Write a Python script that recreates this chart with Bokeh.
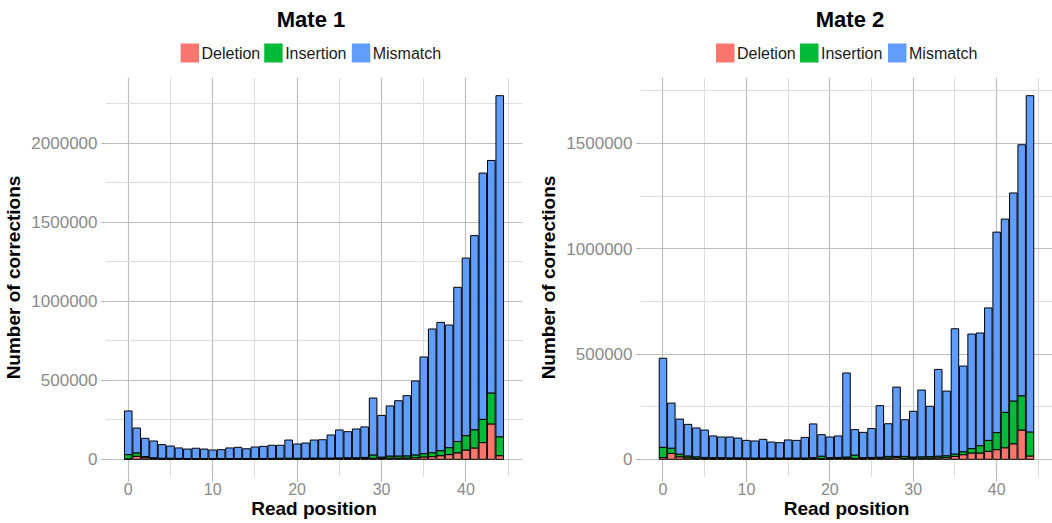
from bokeh.plotting import figure
from bokeh.models import (Range1d, SingleIntervalTicker, BasicTickFormatter, ColumnDataSource)
from bokeh.core.properties import value
from bokeh.layouts import row, column
from bokeh.embed import file_html
from bokeh.resources import INLINE

positions = list(range(45))
categories = ["Deletion", "Insertion", "Mismatch"]
colors = ["#F8766D", "#00BA38", "#619CFF"]
titles = ["Mate 1", "Mate 2"]

# Mate 1 (counts)
mate1_deletion = [3000, 19000, 10000, 5000, 3000, 3000, 3000, 2000, 2000, 2000,
                  2000, 2000, 2000, 2000, 2000, 2000, 2000, 2000, 3000, 3000,
                  3000, 3000, 3000, 3000, 3000, 4000, 4000, 4000, 5000, 6000,
                  5000, 7000, 7000, 8000, 10000, 15000, 17000, 23000, 30000, 41000,
                  59000, 72000, 106000, 224000, 23000]
mate1_insertion = [27000, 22000, 8000, 5000, 4000, 4000, 3000, 3000, 3000, 3000,
                   3000, 3000, 3000, 3000, 3000, 3000, 3000, 4000, 4000, 4000,
                   4000, 4000, 5000, 5000, 5000, 5000, 6000, 6000, 7000, 22000,
                   9000, 14000, 14000, 14000, 18000, 21000, 25000, 32000, 44000, 72000,
                   91000, 115000, 147000, 196000, 120000]
mate1_mismatch = [276000, 157000, 115000, 106000, 86000, 77000, 66000, 60000, 65000, 60000,
                  54000, 56000, 67000, 71000, 62000, 73000, 77000, 83000, 82000, 115000,
                  90000, 96000, 114000, 116000, 146000, 177000, 165000, 182000, 193000, 360000,
                  264000, 317000, 350000, 381000, 468000, 612000, 783000, 812000, 776000, 976000,
                  1124000, 1229000, 1559000, 1472000, 2159000]

# Mate 2 (counts)
mate2_deletion = [8000, 28000, 12000, 7000, 4000, 3000, 3000, 3000, 3000, 3000,
                  2000, 2000, 2000, 2000, 2000, 2000, 2000, 2000, 3000, 3000,
                  3000, 4000, 5000, 4000, 3000, 4000, 5000, 6000, 8000, 5000,
                  5000, 5000, 6000, 7000, 8000, 14000, 22000, 30000, 30000, 38000,
                  46000, 55000, 74000, 139000, 16000]
mate2_insertion = [49000, 25000, 13000, 9000, 8000, 6000, 5000, 5000, 4000, 4000,
                   4000, 4000, 4000, 4000, 4000, 4000, 4000, 4000, 5000, 12000,
                   5000, 5000, 6000, 16000, 5000, 5000, 5000, 8000, 6000, 9000,
                   6000, 7000, 7000, 8000, 9000, 11000, 14000, 21000, 35000, 52000,
                   81000, 168000, 203000, 163000, 114000]
mate2_mismatch = [423000, 214000, 166000, 150000, 137000, 130000, 103000, 98000, 99000, 94000,
                  84000, 81000, 89000, 76000, 73000, 86000, 84000, 98000, 160000, 102000,
                  98000, 102000, 399000, 121000, 120000, 137000, 245000, 155000, 329000, 174000,
                  217000, 317000, 239000, 412000, 307000, 595000, 407000, 544000, 535000, 629000,
                  952000, 918000, 988000, 1192000, 1597000]

FONT = "Liberation Sans"
TICK_GREY = "#8A8A8A"
HEADER_H = 77
MAIN_H = 446


def make_header(title, width, frame_width, title_shift):
    # header frame is aligned to the panel frame below it (column alignment)
    h = figure(width=width, height=HEADER_H, output_backend="svg", toolbar_location=None,
               x_range=Range1d(0, frame_width), y_range=Range1d(0, HEADER_H),
               x_axis_type=None, y_axis_type=None, min_border=0)
    h.outline_line_color = None
    cx = 209.5
    h.text(x=[cx + title_shift], y=[HEADER_H - 19], text=[title], text_align="center",
           text_baseline="middle",
           text_font=value(FONT), text_font_size="22px", text_font_style="bold",
           text_color="black")
    sq_left = [cx + o for o in (-134, -50, 38)]
    h.rect(x=[s + 9.25 for s in sq_left], y=[HEADER_H - 52.5] * 3, width=18.5, height=19,
           fill_color=colors, line_color=None)
    h.text(x=[cx + o for o in (-113, -29, 59)], y=[HEADER_H - 52.5] * 3, text=categories,
           text_align="left", text_baseline="middle",
           text_font=value(FONT), text_font_size="16px", text_color="#1A1A1A")
    return h


def make_panel(dele, ins, mis, width, border_left, border_right):
    totals = [a + b + c for a, b, c in zip(dele, ins, mis)]
    ymax = max(totals)
    lo, hi = -0.45, 44.45
    ex = 0.05 * (hi - lo)
    p = figure(width=width, height=MAIN_H, output_backend="svg", toolbar_location=None,
               x_range=Range1d(lo - ex, hi + ex),
               y_range=Range1d(-0.05 * ymax, 1.05 * ymax),
               min_border_left=border_left, min_border_right=border_right,
               min_border_top=0, min_border_bottom=46)
    p.outline_line_color = None

    src = ColumnDataSource(dict(x=positions, Deletion=dele, Insertion=ins, Mismatch=mis))
    p.vbar_stack(categories, x="x", width=0.9, source=src, fill_color=colors,
                 line_color="black", line_width=1)

    xt = SingleIntervalTicker(interval=10, num_minor_ticks=2)
    yt = SingleIntervalTicker(interval=500000, num_minor_ticks=2)
    p.xaxis.ticker = xt
    p.xgrid.ticker = xt
    p.yaxis.ticker = yt
    p.ygrid.ticker = yt
    p.yaxis.formatter = BasicTickFormatter(use_scientific=False)

    for g in (p.xgrid, p.ygrid):
        g.grid_line_color = "#BEBEBE"
        g.grid_line_width = 1.2
        g.minor_grid_line_color = "#DCDCDC"
        g.minor_grid_line_width = 1

    for ax in (p.xaxis, p.yaxis):
        ax.axis_line_color = None
        ax.major_tick_in = 0
        ax.major_tick_out = 4
        ax.major_tick_line_color = "#AAAAAA"
        ax.minor_tick_line_color = None
        ax.major_label_text_font = FONT
        ax.major_label_text_color = TICK_GREY
        ax.axis_label_text_font = FONT
        ax.axis_label_text_font_size = "19px"
        ax.axis_label_text_font_style = "bold"
        ax.axis_label_text_color = "black"

    p.xaxis.major_label_text_font_size = "16px"
    p.yaxis.major_label_text_font_size = "17px"
    p.xaxis.axis_label = "Read position"
    p.yaxis.axis_label = "Number of corrections"
    p.xaxis.major_label_standoff = 1
    p.xaxis.axis_label_standoff = 0
    p.yaxis.major_label_standoff = 4
    p.yaxis.axis_label_standoff = 4
    return p


W1, L1, R1 = 526, 103, 4
W2, L2, R2 = 526, 114, 0

h1 = make_header(titles[0], W1, W1 - L1 - R1, -3)
p1 = make_panel(mate1_deletion, mate1_insertion, mate1_mismatch, W1, L1, R1)
h2 = make_header(titles[1], W2, W2 - L2 - R2, 0)
p2 = make_panel(mate2_deletion, mate2_insertion, mate2_mismatch, W2, L2, R2)

layout = row(column(h1, p1, spacing=0), column(h2, p2, spacing=0), spacing=0)
open("out.html", "w").write(file_html(layout, INLINE))
